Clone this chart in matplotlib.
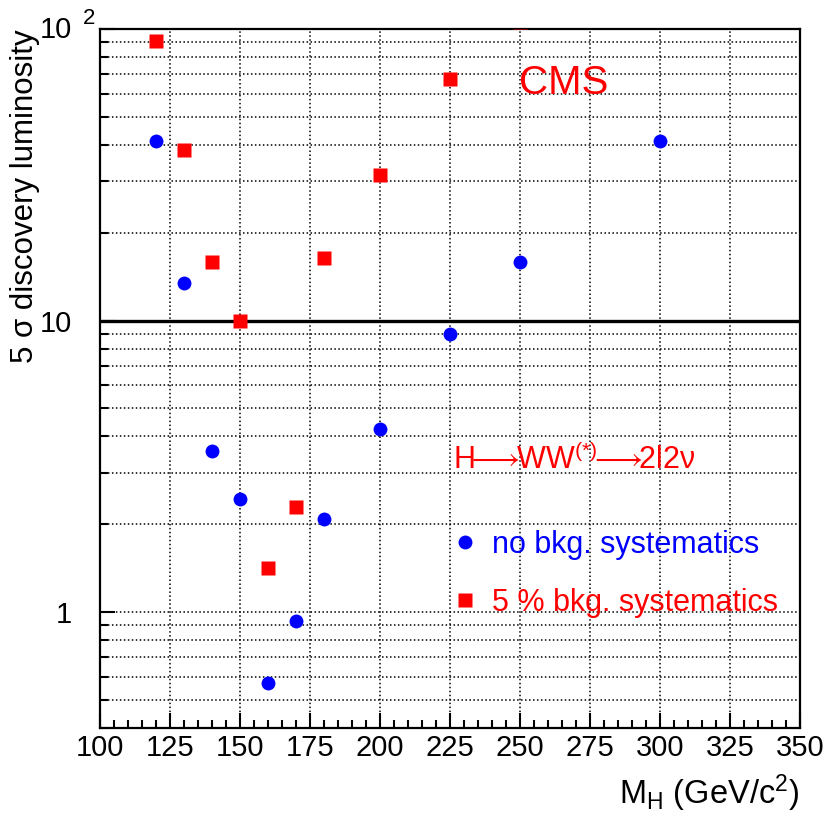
import matplotlib
matplotlib.use("Agg")
import matplotlib.pyplot as plt
from matplotlib.ticker import FixedLocator, MultipleLocator, LogLocator, NullFormatter

plt.rcParams['font.family'] = ['Liberation Sans', 'DejaVu Sans']
plt.rcParams['mathtext.fontset'] = 'custom'
plt.rcParams['mathtext.rm'] = 'Liberation Sans'
plt.rcParams['mathtext.it'] = 'Liberation Sans:italic'
plt.rcParams['mathtext.bf'] = 'Liberation Sans:bold'

# Higgs mass points (GeV/c^2)
mass_nosys = [120, 130, 140, 150, 160, 170, 180, 200, 225, 250, 300]
lumi_nosys = [41.3, 13.4, 3.56, 2.44, 0.571, 0.93, 2.08, 4.24, 8.96, 15.9, 41.3]

mass_sys5 = [120, 130, 140, 150, 160, 170, 180, 200, 225, 250]
lumi_sys5 = [91.0, 38.5, 15.9, 10.0, 1.42, 2.29, 16.4, 31.6, 67.4, 106.0]

xticks = [100, 125, 150, 175, 200, 225, 250, 275, 300, 325, 350]
yticks = [1, 10]
ytick_labels = ['1', '10']

fig = plt.figure(figsize=(8.29, 8.19), dpi=100)
ax = fig.add_axes([100/829, 1-728/819, 700/829, 699/819])

ax.set_yscale('log')
ax.set_xlim(100, 350)
ax.set_ylim(0.4, 100)

ax.xaxis.set_major_locator(FixedLocator(xticks))
ax.xaxis.set_minor_locator(MultipleLocator(5))
ax.set_xticklabels([str(t) for t in xticks])
ax.yaxis.set_major_locator(FixedLocator([1, 10, 100]))
ax.set_yticklabels(ytick_labels + [''])
ax.yaxis.set_minor_locator(LogLocator(base=10, subs=range(2, 10)))
ax.yaxis.set_minor_formatter(NullFormatter())

ax.tick_params(which='both', direction='in', top=False, right=False, width=1.5)
ax.tick_params(which='major', length=11)
ax.tick_params(which='minor', length=5.5)
ax.tick_params(axis='x', labelsize=21, pad=4)
ax.tick_params(axis='y', labelsize=21, pad=20)
for s in ax.spines.values():
    s.set_linewidth(1.6)

# dotted grid: vertical at major x, horizontal at every y sub-decade
ax.grid(True, axis='x', which='major', color='black', ls=(0, (1, 1.6)), lw=1.1)
ax.grid(True, axis='y', which='both', color='black', ls=(0, (1, 1.6)), lw=1.1)

ax.axhline(10, color='black', lw=2.4, zorder=3)

ax.plot(mass_nosys, lumi_nosys, 'o', color='#0000ff', ms=10, mec='none',
        label='no bkg. systematics', zorder=4)
ax.plot(mass_sys5, lumi_sys5, 's', color='#ff0000', ms=9.5, mec='none',
        label='5 % bkg. systematics', zorder=4)

# ROOT-style top label "10 2"
fig.text(72/829, 1-30/819, '10', fontsize=21, ha='right', va='center')
fig.text(83/829, 1-19/819, '2', fontsize=16, ha='left', va='center')

fig.text(519/829, 1-83/819, 'CMS', color='#ff0000', fontsize=29, ha='left', va='center')
fig.text(453/829, 1-460/819,
         r'H$\!\!{\longrightarrow}\!\!$WW$^{(*)}$$\!\!{\longrightarrow}\!\!$2l2ν',
         color='#ff0000', fontsize=22, ha='left', va='center')

ax.legend(loc='upper left', bbox_to_anchor=(0.508, 0.283), frameon=False,
          fontsize=22, handlelength=0.6, handletextpad=0.6, labelspacing=0.9,
          borderpad=0, borderaxespad=0, labelcolor='markerfacecolor')

fig.text(25/829, 1-29/819, '5 σ discovery luminosity', rotation=90,
         fontsize=22.5, ha='center', va='top')
fig.text(799/829, 1-793/819, r'M$_{\mathrm{H}}$ (GeV/c$^{2}$)', fontsize=23.5,
         ha='right', va='center')

fig.savefig('out.png', dpi=100)
